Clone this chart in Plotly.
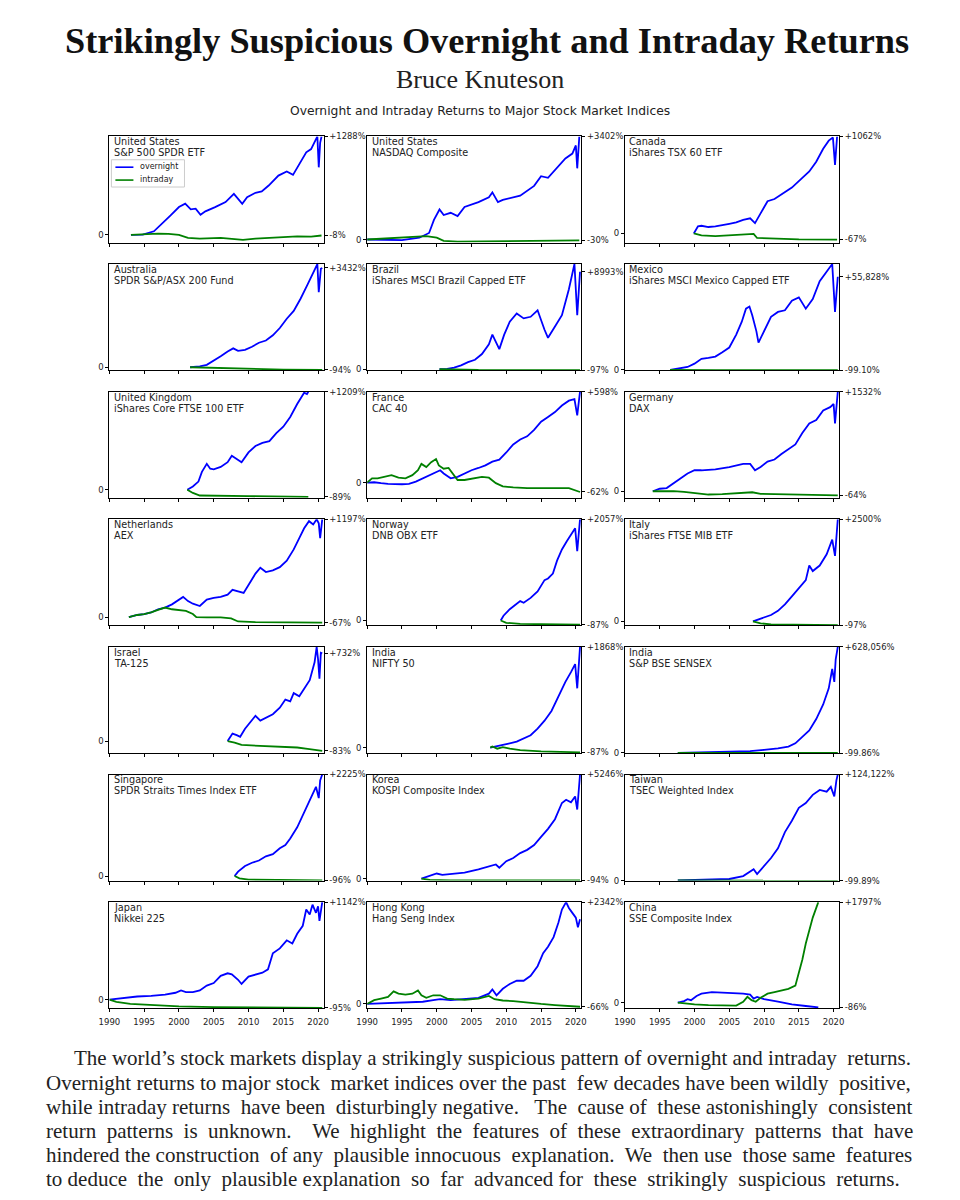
import plotly.graph_objects as go

# ---------------- data ----------------
countries = ["United States", "United States", "Canada",
             "Australia", "Brazil", "Mexico",
             "United Kingdom", "France", "Germany",
             "Netherlands", "Norway", "Italy",
             "Israel", "India", "India",
             "Singapore", "Korea", "Taiwan",
             "Japan", "Hong Kong", "China"]
index_names = ["S&P 500 SPDR ETF", "NASDAQ Composite", "iShares TSX 60 ETF",
               "SPDR S&P/ASX 200 Fund", "iShares MSCI Brazil Capped ETF", "iShares MSCI Mexico Capped ETF",
               "iShares Core FTSE 100 ETF", "CAC 40", "DAX",
               "AEX", "DNB OBX ETF", "iShares FTSE MIB ETF",
               "TA-125", "NIFTY 50", "S&P BSE SENSEX",
               "SPDR Straits Times Index ETF", "KOSPI Composite Index", "TSEC Weighted Index",
               "Nikkei 225", "Hang Seng Index", "SSE Composite Index"]
top_labels = ["+1288%", "+3402%", "+1062%", "+3432%", "+8993%", "+55,828%",
              "+1209%", "+598%", "+1532%", "+1197%", "+2057%", "+2500%",
              "+732%", "+1868%", "+628,056%", "+2225%", "+5246%", "+124,122%",
              "+1142%", "+2342%", "+1797%"]
top_values = [1288, 3402, 1062, 3432, 8993, 55828, 1209, 598, 1532, 1197, 2057, 2500,
              732, 1868, 628056, 2225, 5246, 124122, 1142, 2342, 1797]
bottom_labels = ["-8%", "-30%", "-67%", "-94%", "-97%", "-99.10%",
                 "-89%", "-62%", "-64%", "-67%", "-87%", "-97%",
                 "-83%", "-87%", "-99.86%", "-96%", "-94%", "-99.89%",
                 "-95%", "-66%", "-86%"]
bottom_values = [-8, -30, -67, -94, -97, -99.10, -89, -62, -64, -67, -87, -97,
                 -83, -87, -99.86, -96, -94, -99.89, -95, -66, -86]
year_ticks = [1990, 1995, 2000, 2005, 2010, 2015, 2020]
legend_names = ["overnight", "intraday"]

# cumulative returns in percent (overnight = "on", intraday = "in")
spy_on_x = [1993.1, 1994.8, 1996.4, 1997.9, 1998.8, 2000.0, 2000.9, 2001.7, 2002.4, 2003.1, 2003.8, 2005.2, 2006.7, 2007.9, 2008.6, 2009.1, 2009.8, 2011.0, 2011.9, 2012.9, 2014.3, 2015.5, 2016.4, 2017.4, 2018.3, 2019.0, 2019.6, 2019.9, 2020.1, 2020.3, 2020.5]
spy_on_y = [0, 4, 47, 169, 255, 364, 408, 334, 343, 264, 308, 364, 429, 537, 464, 408, 494, 551, 568, 646, 776, 829, 785, 941, 1080, 1123, 1231, 1288, 884, 1205, 1288]
spy_in_x = [1993.1, 1995.0, 1997.0, 1998.5, 2000.0, 2001.3, 2003.0, 2006.0, 2008.5, 2009.2, 2011.0, 2014.0, 2017.0, 2019.0, 2020.5]
spy_in_y = [0, 8, 17, 13, 0, -39, -48, -39, -57, -65, -48, -31, -18, -22, -8]

ndq_on_x = [1990.0, 1995.0, 1997.5, 1998.9, 1999.6, 2000.4, 2001.0, 2002.0, 2003.0, 2004.0, 2006.0, 2007.5, 2008.0, 2008.8, 2009.5, 2011.0, 2012.0, 2014.0, 2015.0, 2016.0, 2017.5, 2018.5, 2019.5, 2020.0, 2020.2, 2020.5]
ndq_on_y = [0, -20, 60, 216, 647, 990, 807, 882, 775, 1075, 1234, 1395, 1555, 1234, 1308, 1395, 1448, 1770, 2089, 2036, 2409, 2676, 2836, 3104, 2350, 3402]
ndq_in_x = [1990.0, 1994.0, 1998.5, 2000.0, 2001.0, 2003.0, 2010.0, 2020.5]
ndq_in_y = [0, 50, 113, 60, -47, -68, -57, -30]

can_on_x = [1999.9, 2000.5, 2001.0, 2002.0, 2003.0, 2004.0, 2005.0, 2006.0, 2007.0, 2008.0, 2008.7, 2009.5, 2010.5, 2011.5, 2012.5, 2014.0, 2015.5, 2016.5, 2017.5, 2018.5, 2019.3, 2019.9, 2020.2, 2020.5]
can_on_y = [0, 77, 84, 70, 77, 88, 105, 120, 148, 166, 113, 219, 353, 377, 431, 502, 609, 679, 785, 927, 1016, 1051, 750, 1062]
can_in_x = [1999.9, 2001.0, 2003.0, 2005.0, 2007.0, 2008.5, 2009.0, 2011.0, 2015.0, 2020.5]
can_in_y = [0, -22, -29, -22, -12, -5, -50, -57, -65, -67]

aus_on_x = [2001.6, 2003.0, 2004.0, 2005.0, 2006.0, 2007.0, 2007.8, 2008.5, 2009.5, 2010.5, 2011.5, 2012.5, 2013.5, 2014.5, 2015.5, 2016.5, 2017.5, 2018.5, 2019.3, 2019.9, 2020.1, 2020.4, 2020.6]
aus_on_y = [0, 30, 83, 222, 384, 546, 653, 568, 600, 709, 847, 924, 1104, 1355, 1677, 1945, 2376, 2860, 3250, 3564, 2592, 3400, 3432]
aus_in_x = [2001.6, 2004.0, 2006.0, 2010.0, 2015.0, 2020.6]
aus_in_y = [0, -14, -46, -68, -79, -94]

bra_on_x = [2000.4, 2001.5, 2002.5, 2003.5, 2004.5, 2005.5, 2006.5, 2007.5, 2008.0, 2008.5, 2009.0, 2009.7, 2010.5, 2011.5, 2012.5, 2013.5, 2014.5, 2015.5, 2016.0, 2017.0, 2018.0, 2019.0, 2019.8, 2020.2, 2020.6]
bra_on_y = [0, 18, 135, 348, 645, 860, 1390, 2291, 3183, 2438, 1840, 3183, 4379, 5133, 4682, 4829, 5427, 3634, 2889, 3938, 4976, 7368, 9700, 4976, 8993]
bra_in_x = [2000.4, 2003.0, 2006.0, 2020.6]
bra_in_y = [0, -60, -85, -97]

mex_on_x = [1996.5, 1998.0, 1999.0, 2000.0, 2001.0, 2002.0, 2003.0, 2004.0, 2005.0, 2006.0, 2006.8, 2007.4, 2007.9, 2008.3, 2008.9, 2009.2, 2010.0, 2011.0, 2012.0, 2013.0, 2014.0, 2015.0, 2016.0, 2017.0, 2018.0, 2019.0, 2019.8, 2020.2, 2020.6]
mex_on_y = [0, 850, 1800, 3780, 6700, 7270, 8030, 10580, 13440, 21190, 28950, 36760, 38030, 32820, 23160, 16360, 23160, 31870, 34790, 35750, 41530, 43500, 36700, 42480, 53160, 59000, 63455, 34790, 55828]
mex_in_x = [1996.5, 1999.0, 2003.0, 2020.6]
mex_in_y = [0, -70, -95, -99.1]

ukx_on_x = [2001.2, 2002.0, 2002.8, 2003.3, 2004.0, 2004.5, 2005.0, 2006.0, 2007.0, 2007.6, 2008.3, 2009.0, 2010.0, 2011.0, 2012.0, 2013.0, 2014.0, 2015.0, 2016.0, 2017.0, 2018.0, 2018.4, 2018.6]
ukx_on_y = [0, 40, 100, 220, 319, 259, 251, 280, 339, 419, 379, 339, 459, 539, 578, 599, 698, 777, 897, 1057, 1196, 1180, 1209]
ukx_in_x = [2001.2, 2002.0, 2003.0, 2005.0, 2010.0, 2018.6]
ukx_in_y = [0, -40, -72, -76, -80, -89]

cac_on_x = [1990.0, 1991.0, 1992.0, 1993.0, 1995.0, 1996.0, 1997.0, 1998.0, 1999.0, 2000.0, 2000.5, 2001.0, 2002.0, 2003.0, 2004.0, 2005.0, 2006.0, 2007.0, 2008.0, 2009.0, 2010.0, 2011.0, 2012.0, 2013.0, 2014.0, 2015.0, 2016.0, 2017.0, 2018.0, 2019.0, 2019.8, 2020.2, 2020.6]
cac_on_y = [0, 2, -4, -8, -11, -8, 6, 28, 45, 70, 81, 60, 28, 38, 60, 81, 96, 113, 138, 151, 198, 251, 283, 304, 347, 400, 432, 464, 507, 539, 549, 442, 598]
cac_in_x = [1990.0, 1990.7, 1991.5, 1992.5, 1993.5, 1994.5, 1995.5, 1996.5, 1997.3, 1997.8, 1998.5, 1999.2, 1999.9, 2000.3, 2001.0, 2001.7, 2002.3, 2003.0, 2004.0, 2005.0, 2006.5, 2007.5, 2008.5, 2009.5, 2011.0, 2013.0, 2016.0, 2019.0, 2020.6]
cac_in_y = [0, 28, 28, 38, 49, 32, 28, 49, 81, 123, 102, 134, 155, 113, 91, 96, 60, 17, 17, 24, 38, 32, -4, -25, -32, -36, -36, -36, -62]

dax_on_x = [1994.0, 1995.0, 1996.0, 1997.0, 1998.0, 1999.0, 2000.0, 2001.0, 2003.0, 2005.0, 2007.0, 2008.0, 2008.7, 2009.5, 2010.5, 2011.5, 2012.5, 2013.5, 2014.5, 2015.5, 2016.5, 2017.5, 2018.5, 2019.5, 2020.0, 2020.2, 2020.6]
dax_on_y = [0, 39, 49, 124, 199, 274, 323, 323, 337, 373, 422, 422, 323, 373, 457, 488, 572, 646, 721, 896, 1044, 1095, 1243, 1294, 1343, 1044, 1532]
dax_in_x = [1994.0, 1997.0, 1998.5, 2000.0, 2002.0, 2004.0, 2007.0, 2008.3, 2009.5, 2012.0, 2016.0, 2020.6]
dax_in_y = [0, 2, -10, -25, -50, -45, -30, -15, -40, -45, -55, -64]

aex_on_x = [1992.8, 1994.0, 1995.0, 1996.0, 1997.0, 1998.0, 1999.0, 2000.0, 2000.6, 2001.3, 2002.0, 2003.0, 2004.0, 2005.0, 2006.0, 2007.0, 2007.7, 2008.5, 2009.3, 2010.0, 2011.0, 2011.7, 2012.5, 2013.5, 2014.5, 2015.5, 2016.5, 2017.3, 2018.0, 2018.7, 2019.3, 2019.8, 2020.1, 2020.3, 2020.6]
aex_on_y = [0, 27, 39, 58, 97, 118, 157, 216, 248, 197, 165, 137, 216, 236, 248, 276, 335, 315, 296, 394, 533, 604, 552, 572, 612, 691, 829, 967, 1087, 1174, 1134, 1197, 1147, 967, 1197]
aex_in_x = [1992.8, 1994.0, 1995.0, 1996.0, 1997.0, 1998.0, 1999.0, 2000.0, 2001.0, 2002.0, 2002.5, 2004.0, 2006.0, 2007.5, 2008.5, 2011.0, 2020.6]
aex_in_y = [0, 27, 39, 58, 89, 118, 97, 89, 78, 39, 0, -1, -1, -14, -52, -60, -67]

obx_on_x = [2009.2, 2009.6, 2010.5, 2011.3, 2012.0, 2012.5, 2013.5, 2014.5, 2015.5, 2016.0, 2016.7, 2017.3, 2018.0, 2018.7, 2019.3, 2019.9, 2020.2, 2020.6]
obx_on_y = [0, 96, 228, 327, 394, 359, 459, 590, 821, 853, 953, 1216, 1444, 1610, 1742, 1874, 1410, 2057]
obx_in_x = [2009.2, 2010.0, 2012.0, 2015.0, 2020.6]
obx_in_y = [0, -48, -70, -80, -87]

mib_on_x = [2008.4, 2009.3, 2010.0, 2011.0, 2012.0, 2013.0, 2014.0, 2015.0, 2016.0, 2016.5, 2017.0, 2018.0, 2019.0, 2019.8, 2020.2, 2020.6]
mib_on_y = [0, 59, 98, 155, 256, 415, 612, 812, 1010, 1366, 1231, 1366, 1642, 2000, 1603, 2500]
mib_in_x = [2008.4, 2009.5, 2011.0, 2015.0, 2020.6]
mib_in_y = [0, -50, -75, -90, -97]

ta_on_x = [2007.0, 2007.7, 2008.3, 2008.8, 2009.5, 2010.3, 2011.0, 2011.7, 2012.5, 2013.5, 2014.5, 2015.3, 2016.0, 2016.5, 2017.3, 2018.0, 2018.8, 2019.5, 2019.8, 2020.0, 2020.2, 2020.4, 2020.6]
ta_on_y = [0, 62, 49, 35, 103, 157, 211, 170, 197, 224, 278, 346, 332, 400, 373, 440, 508, 657, 786, 683, 520, 737, 732]
ta_in_x = [2007.0, 2008.0, 2009.0, 2011.0, 2014.0, 2017.0, 2018.5, 2020.6]
ta_in_y = [0, -13, -33, -38, -46, -54, -65, -83]

nif_on_x = [2007.7, 2008.5, 2009.5, 2010.5, 2011.5, 2012.5, 2013.5, 2014.5, 2015.5, 2016.5, 2017.5, 2018.5, 2019.3, 2019.9, 2020.2, 2020.6]
nif_on_y = [0, 20, 50, 80, 111, 170, 230, 351, 500, 680, 951, 1219, 1400, 1549, 1100, 1868]
nif_in_x = [2007.7, 2008.0, 2008.7, 2009.5, 2010.5, 2012.0, 2015.0, 2020.6]
nif_in_y = [0, 20, -20, 10, -20, -45, -70, -87]

bse_on_x = [1997.6, 1999.0, 2002.0, 2005.0, 2008.0, 2010.0, 2012.0, 2013.5, 2014.5, 2015.5, 2016.5, 2017.5, 2018.5, 2019.3, 2019.8, 2020.1, 2020.3, 2020.6]
bse_on_y = [0, 1000, 3500, 7500, 11300, 18800, 27000, 38300, 57200, 95500, 133800, 201000, 287000, 383000, 498000, 421000, 555000, 628056]
bse_in_x = [1997.6, 2000.0, 2005.0, 2020.6]
bse_in_y = [0, -80, -97, -99.86]

sti_on_x = [2008.0, 2008.5, 2009.5, 2010.5, 2011.5, 2012.5, 2013.5, 2014.5, 2015.3, 2016.0, 2017.0, 2018.0, 2019.0, 2019.7, 2020.1, 2020.3, 2020.6]
sti_on_y = [0, 98, 219, 291, 340, 432, 481, 609, 679, 821, 1069, 1388, 1744, 1955, 1707, 2097, 2225]
sti_in_x = [2008.0, 2008.7, 2010.0, 2015.0, 2020.6]
sti_in_y = [0, -50, -80, -90, -96]

ksp_on_x = [1997.8, 1999.0, 2000.0, 2000.8, 2002.0, 2004.0, 2006.0, 2007.5, 2008.5, 2009.0, 2010.0, 2011.0, 2012.0, 2013.0, 2014.0, 2015.0, 2016.0, 2017.0, 2018.0, 2018.6, 2019.3, 2019.9, 2020.2, 2020.6]
ksp_on_y = [0, 145, 258, 194, 226, 306, 472, 632, 713, 552, 878, 1039, 1285, 1450, 1691, 2103, 2509, 2995, 3813, 3974, 3845, 4139, 3482, 5246]
ksp_in_x = [1997.8, 1999.0, 2002.0, 2020.6]
ksp_in_y = [0, -60, -85, -94]

twn_on_x = [1997.6, 2003.0, 2005.0, 2007.0, 2008.0, 2008.5, 2009.0, 2010.0, 2011.0, 2012.0, 2013.0, 2014.0, 2015.0, 2016.0, 2017.0, 2018.0, 2019.0, 2019.6, 2020.1, 2020.4, 2020.6]
twn_on_y = [0, 1000, 1800, 5200, 11200, 13200, 7500, 16900, 26400, 37800, 56700, 70000, 85100, 90800, 100300, 106000, 104000, 109700, 98500, 117300, 124122]
twn_in_x = [1997.6, 2000.0, 2005.0, 2020.6]
twn_in_y = [0, -80, -97, -99.89]

nky_on_x = [1990.0, 1992.0, 1994.0, 1996.0, 1998.0, 1999.5, 2000.3, 2001.0, 2002.0, 2003.0, 2004.0, 2005.0, 2006.0, 2007.0, 2007.6, 2008.5, 2009.0, 2010.0, 2011.0, 2012.0, 2012.8, 2013.5, 2014.5, 2015.5, 2016.3, 2017.0, 2017.8, 2018.3, 2018.8, 2019.2, 2019.7, 2020.0, 2020.2, 2020.6]
nky_on_y = [0, 21, 37, 44, 59, 81, 108, 89, 89, 108, 165, 195, 279, 309, 297, 233, 184, 271, 297, 316, 355, 543, 600, 695, 658, 771, 865, 1055, 998, 1112, 1017, 1092, 922, 1142]
nky_in_x = [1990.0, 1991.0, 1993.0, 1996.0, 2000.0, 2005.0, 2010.0, 2020.6]
nky_in_y = [0, -25, -50, -65, -78, -87, -91, -95]

hsi_on_x = [1990.0, 1995.0, 1998.0, 1999.5, 2000.5, 2002.0, 2004.0, 2006.0, 2007.5, 2008.0, 2008.6, 2009.5, 2010.5, 2011.5, 2012.5, 2013.5, 2014.5, 2015.3, 2016.0, 2016.8, 2017.5, 2018.0, 2018.6, 2019.0, 2019.5, 2020.0, 2020.3, 2020.6]
hsi_on_y = [0, 27, 49, 86, 108, 86, 108, 139, 235, 332, 198, 347, 459, 532, 532, 645, 867, 1165, 1314, 1536, 1873, 2171, 2342, 2208, 2095, 1985, 1761, 1950]
hsi_in_x = [1990.0, 1991.0, 1992.0, 1993.0, 1993.8, 1994.5, 1995.5, 1996.5, 1997.3, 1997.8, 1998.5, 1999.5, 2000.5, 2001.5, 2002.5, 2004.0, 2006.0, 2007.5, 2008.3, 2009.5, 2011.0, 2013.0, 2015.0, 2017.0, 2020.6]
hsi_in_y = [0, 86, 122, 161, 288, 235, 213, 235, 310, 198, 139, 198, 198, 122, 108, 93, 122, 183, 108, 78, 64, 27, -2, -27, -66]

sse_on_x = [1997.6, 1998.5, 1999.0, 1999.5, 2000.3, 2001.0, 2002.5, 2004.0, 2005.5, 2007.0, 2008.0, 2008.5, 2009.0, 2010.0, 2012.0, 2014.0, 2016.0, 2017.8]
sse_on_y = [0, 27, 61, 44, 120, 160, 188, 177, 177, 160, 143, 73, 103, 61, 16, -30, -60, -86]
sse_in_x = [1997.6, 1998.5, 2000.0, 2002.0, 2004.0, 2006.0, 2007.0, 2007.6, 2008.2, 2008.8, 2009.5, 2010.5, 2011.5, 2012.5, 2013.5, 2014.5, 2015.0, 2015.5, 2016.0, 2016.5, 2017.0, 2017.8]
sse_in_y = [0, -13, -30, -43, -54, -54, 16, 103, 44, 16, 86, 160, 188, 219, 247, 304, 535, 767, 1057, 1289, 1520, 1797]

overnight_x = [spy_on_x, ndq_on_x, can_on_x, aus_on_x, bra_on_x, mex_on_x, ukx_on_x, cac_on_x, dax_on_x,
               aex_on_x, obx_on_x, mib_on_x, ta_on_x, nif_on_x, bse_on_x, sti_on_x, ksp_on_x, twn_on_x,
               nky_on_x, hsi_on_x, sse_on_x]
overnight_y = [spy_on_y, ndq_on_y, can_on_y, aus_on_y, bra_on_y, mex_on_y, ukx_on_y, cac_on_y, dax_on_y,
               aex_on_y, obx_on_y, mib_on_y, ta_on_y, nif_on_y, bse_on_y, sti_on_y, ksp_on_y, twn_on_y,
               nky_on_y, hsi_on_y, sse_on_y]
intraday_x = [spy_in_x, ndq_in_x, can_in_x, aus_in_x, bra_in_x, mex_in_x, ukx_in_x, cac_in_x, dax_in_x,
              aex_in_x, obx_in_x, mib_in_x, ta_in_x, nif_in_x, bse_in_x, sti_in_x, ksp_in_x, twn_in_x,
              nky_in_x, hsi_in_x, sse_in_x]
intraday_y = [spy_in_y, ndq_in_y, can_in_y, aus_in_y, bra_in_y, mex_in_y, ukx_in_y, cac_in_y, dax_in_y,
              aex_in_y, obx_in_y, mib_in_y, ta_in_y, nif_in_y, bse_in_y, sti_in_y, ksp_in_y, twn_in_y,
              nky_in_y, hsi_in_y, sse_in_y]

title_text = "Strikingly Suspicious Overnight and Intraday Returns"
author_text = "Bruce Knuteson"
subtitle_text = "Overnight and Intraday Returns to Major Stock Market Indices"
abstract_lines = [
    "The world\u2019s stock markets display a strikingly suspicious pattern of overnight and intraday returns.",
    "Overnight returns to major stock market indices over the past few decades have been wildly positive,",
    "while intraday returns have been disturbingly negative.  The cause of these astonishingly consistent",
    "return patterns is unknown.  We highlight the features of these extraordinary patterns that have",
    "hindered the construction of any plausible innocuous explanation.  We then use those same features",
    "to deduce the only plausible explanation so far advanced for these strikingly suspicious returns.",
]

# ---------------- layout ----------------
FW, FH = 944, 1184


def fx(px):  # page pixel -> paper x (calibrated to the rendered page)
    return ((px - 21.7) / 0.982) / FW


def fy(py):  # page pixel -> paper y
    return 1 - (py - 9.5) / FH


def justify(line, extra):
    # widen word gaps with non-breaking spaces so the line fills the text block
    parts = line.split(" ")
    gaps = len(parts) - 1
    out = parts[0]
    for g in range(gaps):
        add = (g + 1) * extra // gaps - g * extra // gaps
        out += "\u00a0" * add + " " + parts[g + 1]
    return out


BLUE = "#0000ff"
GREEN = "#008000"
SANS = "DejaVu Sans"
SERIF = "Liberation Serif"
TXT = "#222222"

col_left = [112.0, 369.5, 627.0]
panel_w = 214.0
row_top0, row_pitch, panel_h = 134.0, 128.7, 107.0

fig = go.Figure()
layout = dict(width=FW, height=FH, margin=dict(l=0, r=0, t=0, b=0),
              paper_bgcolor="white", plot_bgcolor="white", showlegend=False)
annotations = []
shapes = []

for i in range(21):
    r, c = divmod(i, 3)
    k = i + 1
    left = col_left[c]
    top = row_top0 + r * row_pitch
    xd = [fx(left), fx(left + panel_w)]
    yd = [fy(top + panel_h), fy(top)]
    xs = "" if k == 1 else str(k)
    ys = "" if k == 1 else str(k)
    ys2 = str(k + 21)
    ymax = max(max(overnight_y[i]), max(intraday_y[i]))
    yr = [-100, ymax]

    fig.add_trace(go.Scatter(x=overnight_x[i], y=overnight_y[i], mode="lines",
                             line=dict(color=BLUE, width=1.8), name=legend_names[0],
                             xaxis="x" + xs, yaxis="y" + ys, hoverinfo="skip"))
    fig.add_trace(go.Scatter(x=intraday_x[i], y=intraday_y[i], mode="lines",
                             line=dict(color=GREEN, width=1.8), name=legend_names[1],
                             xaxis="x" + xs, yaxis="y" + ys, hoverinfo="skip"))
    fig.add_trace(go.Scatter(x=[None], y=[None], showlegend=False,
                             xaxis="x" + xs, yaxis="y" + ys2, hoverinfo="skip"))

    tick_font = dict(family=SANS, size=8.5, color=TXT)
    layout["xaxis" + xs] = dict(domain=xd, range=[1990, 2020.8], anchor="y" + ys,
                                tickvals=year_ticks, showticklabels=(r == 6),
                                ticks="outside", ticklen=3, tickwidth=1, tickcolor="black",
                                ticklabelstandoff=3,
                                showline=True, linecolor="black", linewidth=1, mirror=True,
                                showgrid=False, zeroline=False, tickfont=tick_font)
    layout["yaxis" + ys] = dict(domain=yd, range=yr, anchor="x" + xs,
                                tickvals=[0], ticktext=["0"],
                                ticks="outside", ticklen=3, tickwidth=1, tickcolor="black",
                                showline=True, linecolor="black", linewidth=1, mirror=True,
                                showgrid=False, zeroline=False, tickfont=tick_font)
    layout["yaxis" + ys2] = dict(domain=yd, range=yr, anchor="x" + xs, overlaying="y" + ys,
                                 side="right", tickvals=[top_values[i], bottom_values[i]],
                                 ticktext=[top_labels[i], bottom_labels[i]],
                                 ticks="outside", ticklen=3, tickwidth=1, tickcolor="black",
                                 showline=False, showgrid=False, zeroline=False,
                                 tickfont=dict(family=SANS, size=8.4, color=TXT))
    for j, txt in enumerate([countries[i], index_names[i]]):
        annotations.append(dict(xref="paper", yref="paper", x=fx(left + 2.5), y=fy(top + 5.5 + 11 * j),
                                xanchor="left", yanchor="middle", showarrow=False,
                                text=txt, font=dict(family=SANS, size=9.7, color=TXT)))

# legend (drawn in the first panel)
shapes.append(dict(type="rect", xref="paper", yref="paper", x0=fx(114), x1=fx(187),
                   y0=fy(185), y1=fy(157.5), line=dict(color="#cccccc", width=1),
                   fillcolor="white", layer="above"))
for j, (nm, col) in enumerate(zip(legend_names, [BLUE, GREEN])):
    yy = 165 + 13 * j
    shapes.append(dict(type="line", xref="paper", yref="paper", x0=fx(118), x1=fx(136),
                       y0=fy(yy), y1=fy(yy), line=dict(color=col, width=1.6), layer="above"))
    annotations.append(dict(xref="paper", yref="paper", x=fx(141), y=fy(yy - 0.5), xanchor="left",
                            yanchor="middle", showarrow=False, text=nm,
                            font=dict(family=SANS, size=8, color=TXT)))

annotations.append(dict(xref="paper", yref="paper", x=fx(489), y=fy(37.5), xanchor="center",
                        yanchor="middle", showarrow=False, text="<b>" + title_text + "</b>",
                        font=dict(family=SERIF, size=36.3, color="#111111")))
annotations.append(dict(xref="paper", yref="paper", x=fx(482.5), y=fy(76.5), xanchor="center",
                        yanchor="middle", showarrow=False, text=author_text,
                        font=dict(family=SERIF, size=26, color=TXT)))
annotations.append(dict(xref="paper", yref="paper", x=fx(482), y=fy(108), xanchor="center",
                        yanchor="middle", showarrow=False, text=subtitle_text,
                        font=dict(family=SANS, size=12.3, color=TXT)))
line_y = [1060, 1085, 1109.5, 1134, 1158, 1182]
line_extra = [1, 3, 6, 14, 6, 10]
for j, ln in enumerate(abstract_lines):
    annotations.append(dict(xref="paper", yref="paper", x=fx(75 if j == 0 else 47),
                            y=fy(line_y[j] + 3.5), xanchor="left", yanchor="middle",
                            showarrow=False, text=justify(ln, line_extra[j]),
                            font=dict(family=SERIF, size=21, color=TXT)))

layout["annotations"] = annotations
layout["shapes"] = shapes
fig.update_layout(**layout)
fig.write_html("out.html")
